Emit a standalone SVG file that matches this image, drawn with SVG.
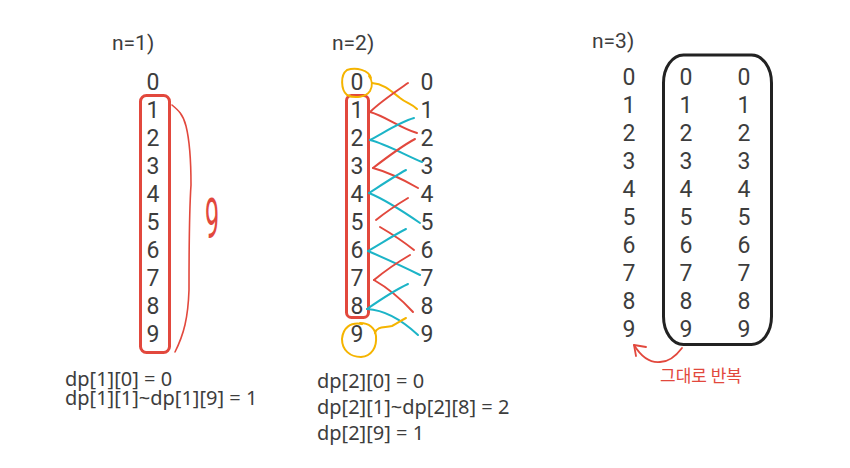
<svg xmlns="http://www.w3.org/2000/svg" width="850" height="468" viewBox="0 0 850 468">
<style>
.d{font-family:Roboto,"Liberation Sans",sans-serif;font-size:23px;fill:#3d3d3d;text-anchor:middle}
.lbl{font-family:Roboto,"Liberation Sans",sans-serif;font-size:21px;fill:#3d3d3d}
.eq{font-family:"Noto Sans","Liberation Sans",sans-serif;font-size:20px;fill:#3d3d3d}
.r{fill:none;stroke:#e2483d;stroke-width:2;stroke-linecap:round}
.c{fill:none;stroke:#1cb4c7;stroke-width:2;stroke-linecap:round}
.y{fill:none;stroke:#f5b400;stroke-width:2;stroke-linecap:round}
</style>
<rect width="850" height="468" fill="#ffffff"/>

<g id="n1">
<text class="lbl" x="112" y="50">n=1)</text>
<g id="n1-col">
<text class="d" x="153" y="89.5">0</text>
<text class="d" x="153" y="117.5">1</text>
<text class="d" x="153" y="145.5">2</text>
<text class="d" x="153" y="173.5">3</text>
<text class="d" x="153" y="201.5">4</text>
<text class="d" x="153" y="229.5">5</text>
<text class="d" x="153" y="257.5">6</text>
<text class="d" x="153" y="285.5">7</text>
<text class="d" x="153" y="313.5">8</text>
<text class="d" x="153" y="341.5">9</text>
</g>
<rect x="140.5" y="95.5" width="29" height="257" rx="6" fill="none" stroke="#e2483d" stroke-width="3"/>
<path d="M172,105 C178,110 183,114 186,126 C189,138 191,160 191,185 C190,200 189,240 189,290 C188,318 184,334 175,352" fill="none" stroke="#e2483d" stroke-width="1.6" stroke-linecap="round"/>
<text x="212" y="238" font-family="Roboto,'Liberation Sans',sans-serif" font-size="56" fill="#e2483d" text-anchor="middle" transform="translate(212 0) scale(0.45 1) translate(-212 0)">9</text>
<text class="eq" x="65" y="386">dp[1][0] = 0</text>
<text class="eq" x="65" y="405">dp[1][1]~dp[1][9] = 1</text>
</g>

<g id="n2">
<text class="lbl" x="332" y="50">n=2)</text>
<g id="n2-left">
<text class="d" x="357" y="89.5">0</text>
<text class="d" x="357" y="117.5">1</text>
<text class="d" x="357" y="145.5">2</text>
<text class="d" x="357" y="173.5">3</text>
<text class="d" x="357" y="201.5">4</text>
<text class="d" x="357" y="229.5">5</text>
<text class="d" x="357" y="257.5">6</text>
<text class="d" x="357" y="285.5">7</text>
<text class="d" x="357" y="313.5">8</text>
<text class="d" x="357" y="341.5">9</text>
</g>
<g id="n2-right">
<text class="d" x="427" y="89.5">0</text>
<text class="d" x="427" y="117.5">1</text>
<text class="d" x="427" y="145.5">2</text>
<text class="d" x="427" y="173.5">3</text>
<text class="d" x="427" y="201.5">4</text>
<text class="d" x="427" y="229.5">5</text>
<text class="d" x="427" y="257.5">6</text>
<text class="d" x="427" y="285.5">7</text>
<text class="d" x="427" y="313.5">8</text>
<text class="d" x="427" y="341.5">9</text>
</g>
<rect x="346.5" y="95.5" width="22" height="222" rx="5" fill="none" stroke="#e2483d" stroke-width="3"/>
<path class="y" d="M371,78 C369,70 356,67 347,70 C340,75 341,90 347,95 C355,99 366,97 370,91 C373,86 372,80 369,76"/>
<path class="y" d="M362,324 C350,322 343,328 342,339 C342,350 350,357 361,357 C372,356 377,347 376,336 C375,328 369,323 360,323"/>
</g>

<g id="n2-connectors">
<path class="y" d="M372,83 C385,84 392,92 400,98 C406,103 412,104 417,109"/>
<path class="r" d="M370,112 C380,102 395,92 408,83"/>
<path class="r" d="M370,112 C385,116 400,128 417,133"/>
<path class="c" d="M370,140 C385,132 400,122 414,118"/>
<path class="c" d="M370,140 C386,144 405,155 422,162"/>
<path class="r" d="M373,168 C386,158 402,146 415,139"/>
<path class="r" d="M373,168 C388,172 404,180 418,188"/>
<path class="c" d="M369,193 C383,184 395,176 406,170"/>
<path class="c" d="M369,193 C386,200 404,212 420,223"/>
<path class="r" d="M376,220 C386,212 398,204 408,198"/>
<path class="r" d="M380,227 C392,234 404,242 414,250"/>
<path class="c" d="M368,251 C382,243 394,235 406,229"/>
<path class="c" d="M368,251 C384,258 402,266 420,275"/>
<path class="r" d="M374,280 C386,270 398,262 410,255"/>
<path class="r" d="M374,280 C388,288 402,300 413,312"/>
<path class="c" d="M367,309 C380,300 395,290 408,284"/>
<path class="c" d="M367,309 C386,310 404,322 418,335"/>
<path class="y" d="M375,333 C377,326 384,328 392,326 C398,323 402,320 406,318"/>
</g>

<g id="n2-eq">
<text class="eq" x="317" y="388">dp[2][0] = 0</text>
<text class="eq" x="317" y="414">dp[2][1]~dp[2][8] = 2</text>
<text class="eq" x="317" y="440">dp[2][9] = 1</text>
</g>

<g id="n3">
<text class="lbl" x="592" y="48">n=3)</text>
<g id="n3-c1">
<text class="d" x="629" y="85">0</text>
<text class="d" x="629" y="113">1</text>
<text class="d" x="629" y="141">2</text>
<text class="d" x="629" y="169">3</text>
<text class="d" x="629" y="197">4</text>
<text class="d" x="629" y="225">5</text>
<text class="d" x="629" y="253">6</text>
<text class="d" x="629" y="281">7</text>
<text class="d" x="629" y="309">8</text>
<text class="d" x="629" y="337">9</text>
</g>
<g id="n3-c2">
<text class="d" x="686" y="85">0</text>
<text class="d" x="686" y="113">1</text>
<text class="d" x="686" y="141">2</text>
<text class="d" x="686" y="169">3</text>
<text class="d" x="686" y="197">4</text>
<text class="d" x="686" y="225">5</text>
<text class="d" x="686" y="253">6</text>
<text class="d" x="686" y="281">7</text>
<text class="d" x="686" y="309">8</text>
<text class="d" x="686" y="337">9</text>
</g>
<g id="n3-c3">
<text class="d" x="744" y="85">0</text>
<text class="d" x="744" y="113">1</text>
<text class="d" x="744" y="141">2</text>
<text class="d" x="744" y="169">3</text>
<text class="d" x="744" y="197">4</text>
<text class="d" x="744" y="225">5</text>
<text class="d" x="744" y="253">6</text>
<text class="d" x="744" y="281">7</text>
<text class="d" x="744" y="309">8</text>
<text class="d" x="744" y="337">9</text>
</g>
<rect x="663.5" y="55" width="108" height="289.5" rx="20" ry="28" fill="none" stroke="#222222" stroke-width="3"/>
<path d="M682,348 C676,356 668,362 660,362 C650,363 642,358 634,345" fill="none" stroke="#e2483d" stroke-width="1.8" stroke-linecap="round"/>
<path d="M646,347 L634,345 L636,356" fill="none" stroke="#e2483d" stroke-width="1.8" stroke-linecap="round" stroke-linejoin="round"/>
<text x="660" y="382" font-family="'Noto Sans CJK KR',sans-serif" font-size="17" fill="#e2483d">그대로 반복</text>
</g>
</svg>
